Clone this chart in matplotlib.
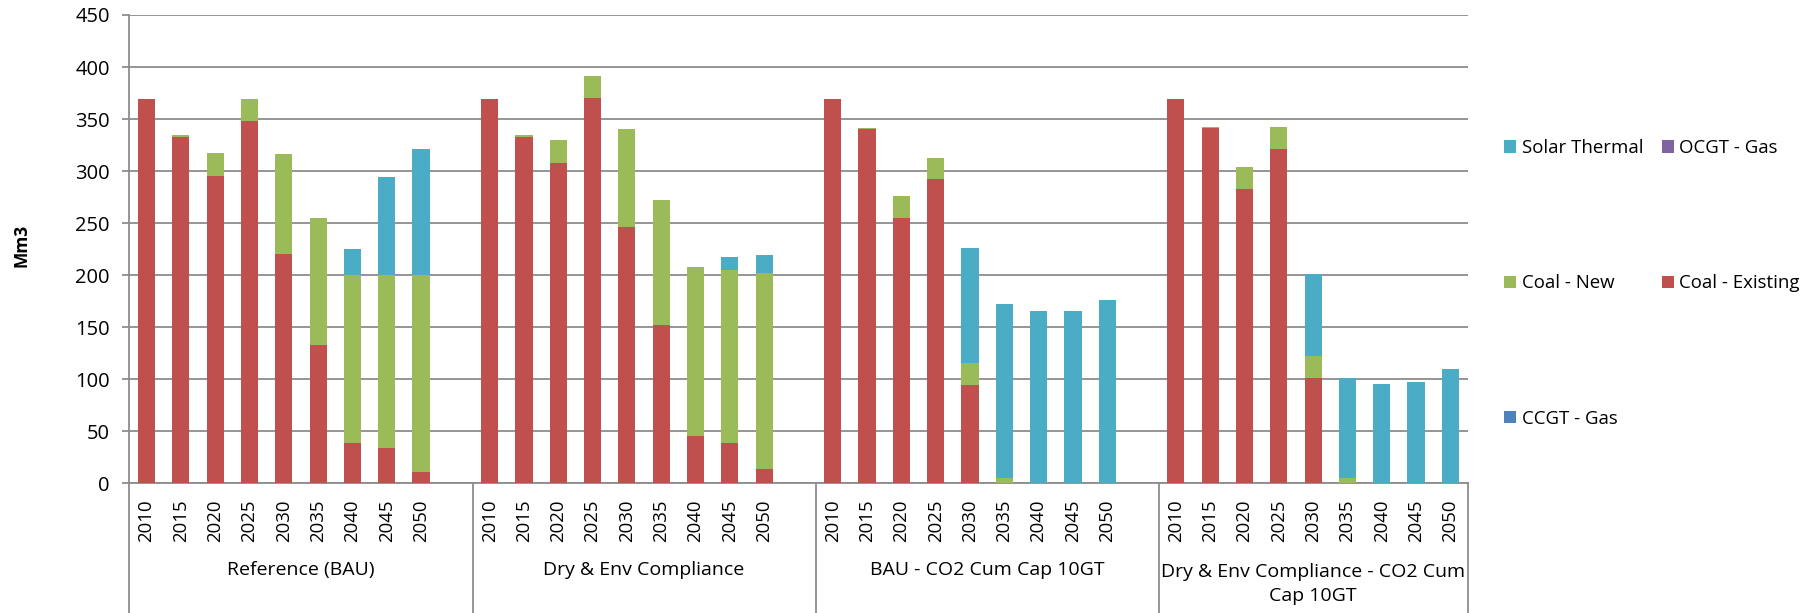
import numpy as np
import matplotlib.pyplot as plt
import matplotlib.transforms as mtransforms
from matplotlib.patches import Patch

plt.rcParams['font.family'] = ['Open Sans', 'DejaVu Sans']

years = ['2010', '2015', '2020', '2025', '2030', '2035', '2040', '2045', '2050']
scenarios = ['Reference (BAU)', 'Dry & Env Compliance', 'BAU - CO2 Cum Cap 10GT',
             'Dry & Env Compliance - CO2 Cum\nCap 10GT']

# Mm3, one list per scenario
coal_existing = [
    [369, 333, 295, 348, 220, 133, 39, 34, 11],
    [369, 333, 308, 370, 246, 152, 45, 39, 14],
    [369, 340, 255, 292, 94, 0, 0, 0, 0],
    [369, 341, 283, 321, 101, 0, 0, 0, 0],
]
coal_new = [
    [0, 2, 22, 21, 96, 122, 161, 166, 189],
    [0, 1.5, 22, 21, 94, 120, 163, 165.5, 188],
    [0, 1.5, 21, 21, 22, 5, 0, 0, 0],
    [0, 1.5, 21, 21, 21, 5, 0, 0, 0],
]
solar_thermal = [
    [0, 0, 0, 0, 0, 0, 25, 94, 121],
    [0, 0, 0, 0, 0, 0, 0, 13, 17],
    [0, 0, 0, 0, 110, 167, 166, 166, 176],
    [0, 0, 0, 0, 79, 96, 95, 97, 110],
]
ccgt_gas = [[0] * 9 for _ in range(4)]
ocgt_gas = [[0] * 9 for _ in range(4)]

series = [
    ('CCGT - Gas', ccgt_gas, '#4F81BD'),
    ('Coal - Existing', coal_existing, '#C0504D'),
    ('Coal - New', coal_new, '#9BBB59'),
    ('OCGT - Gas', ocgt_gas, '#8064A2'),
    ('Solar Thermal', solar_thermal, '#4BACC6'),
]

W, H = 1812, 613
fig = plt.figure(figsize=(W / 100, H / 100), dpi=100)
ax = fig.add_axes([129.4 / W, 1 - 483.3 / H, (1467.5 - 129.4) / W, (483.3 - 15) / H])

x = np.array([g * 10 + i for g in range(4) for i in range(9)], dtype=float)
bottom = np.zeros(len(x))
handles = {}
for name, data, color in series:
    vals = np.array(data, dtype=float).ravel()
    ax.bar(x, vals, width=0.5, bottom=bottom, color=color, zorder=3)
    bottom += vals
    handles[name] = Patch(facecolor=color, label=name)

grid_c = '#8c8c8c'
ax.set_ylim(0, 450)
ax.set_yticks(np.arange(0, 451, 50))
ax.set_xlim(-0.5, 38.5)
ax.yaxis.grid(True, color=grid_c, linewidth=1.3, zorder=0)
ax.set_axisbelow(True)
for s in ['top', 'right']:
    ax.spines[s].set_visible(False)
for s in ['left', 'bottom']:
    ax.spines[s].set_color(grid_c)
    ax.spines[s].set_linewidth(1.3)
ax.tick_params(axis='y', length=5, width=1.3, color=grid_c, pad=9, labelsize=14.5)
ax.set_xticks(x)
ax.set_xticklabels(years * 4, rotation=90, fontsize=13.4)
ax.tick_params(axis='x', length=0, pad=11.5)

trans = mtransforms.blended_transform_factory(ax.transData, ax.transAxes)
for xs in [-0.5, 9.5, 19.5, 29.5, 38.5]:
    ax.plot([xs, xs], [0, -0.28], transform=trans, color=grid_c, linewidth=1.3,
            clip_on=False)

centers = [4.5, 14.5, 24.5, 34]
for c, lab in zip(centers, scenarios):
    yy = -0.186 if '\n' not in lab else -0.215
    ax.text(c, yy, lab, transform=trans, ha='center', va='center', fontsize=14,
            linespacing=1.45)

fig.text(21 / W, 1 - 245 / H, 'Mm3', rotation=90, ha='center', va='center',
         fontsize=12.5, fontweight='bold')

order = ['Solar Thermal', 'Coal - New', 'CCGT - Gas', 'OCGT - Gas', 'Coal - Existing']
fig.legend([handles[n] for n in order], order, loc='upper left',
           bbox_to_anchor=(1504 / W, 1 - 139 / H), frameon=False, ncol=2,
           fontsize=13.4, handlelength=0.65, handleheight=0.65, handletextpad=0.3,
           columnspacing=1.0, labelspacing=6.3, borderpad=0, borderaxespad=0)

fig.savefig('out.png', dpi=100)
